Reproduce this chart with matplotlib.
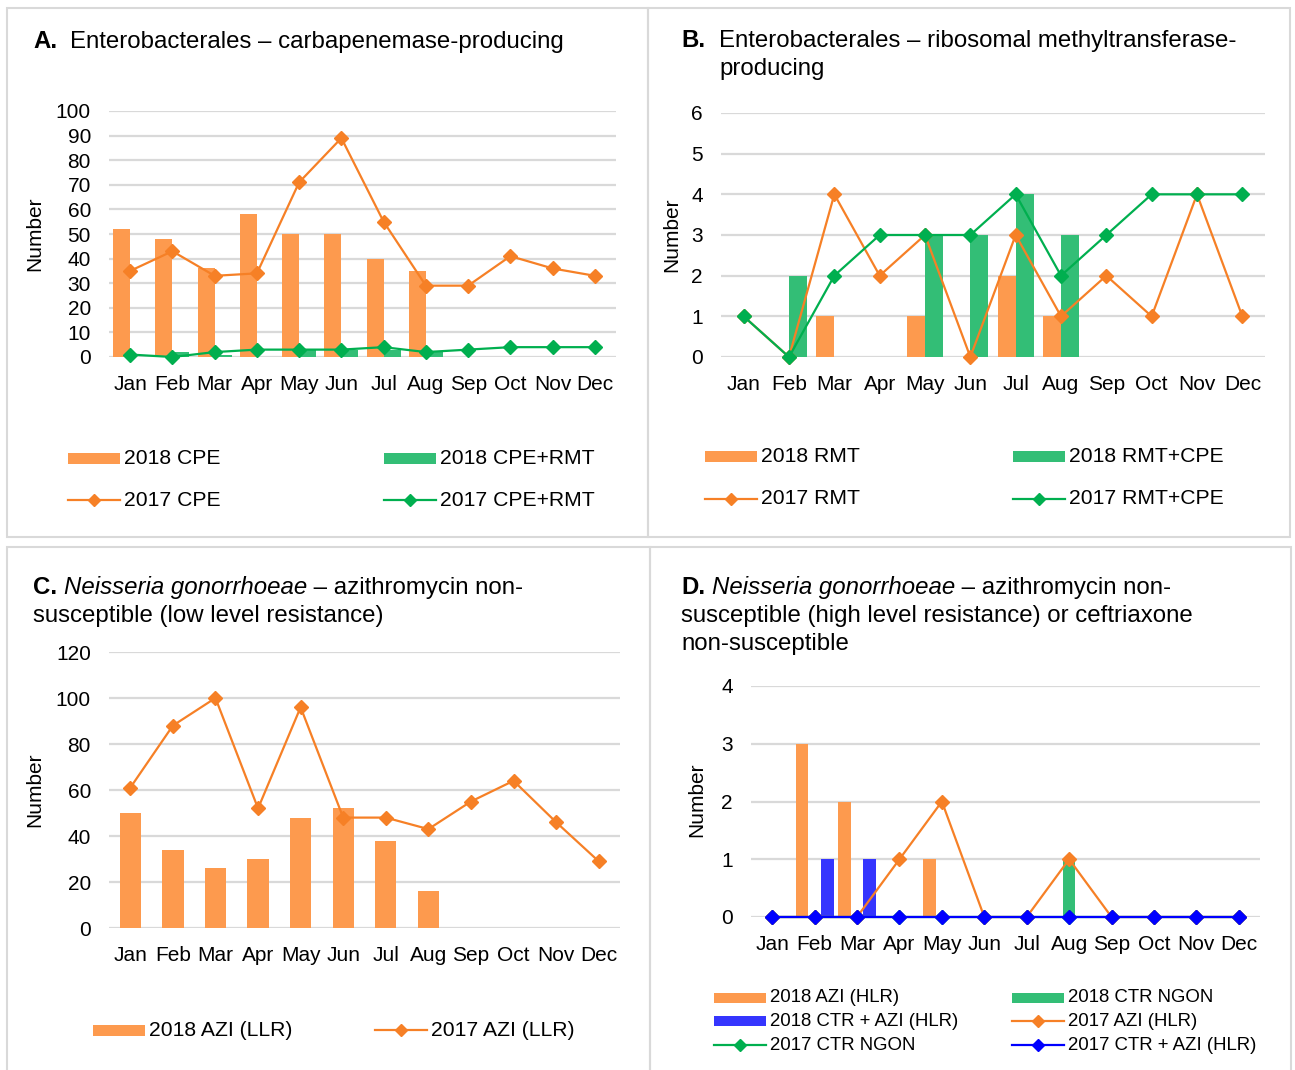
import matplotlib
matplotlib.use("Agg")
import matplotlib.pyplot as plt
from matplotlib.patches import Rectangle
from matplotlib.lines import Line2D
import numpy as np

plt.rcParams['font.family'] = ['Liberation Sans', 'DejaVu Sans']

W, H = 1295, 1070

months = ["Jan", "Feb", "Mar", "Apr", "May", "Jun",
          "Jul", "Aug", "Sep", "Oct", "Nov", "Dec"]

# A. carbapenemase-producing Enterobacterales
cpe_2018 = [52, 48, 36, 58, 50, 50, 40, 35]
cpe_rmt_2018 = [0, 2, 1, 0, 3, 3, 3, 2]
cpe_2017 = [35, 43, 33, 34, 71, 89, 55, 29, 29, 41, 36, 33]
cpe_rmt_2017 = [1, 0, 2, 3, 3, 3, 4, 2, 3, 4, 4, 4]

# B. ribosomal methyltransferase-producing Enterobacterales
rmt_2018 = [0, 0, 1, 0, 1, 0, 2, 1]
rmt_cpe_2018 = [0, 2, 0, 0, 3, 3, 4, 3]
rmt_2017 = [1, 0, 4, 2, 3, 0, 3, 1, 2, 1, 4, 1]
rmt_cpe_2017 = [1, 0, 2, 3, 3, 3, 4, 2, 3, 4, 4, 4]

# C. N. gonorrhoeae, azithromycin low level resistance
azi_llr_2018 = [50, 34, 26, 30, 48, 52, 38, 16]
azi_llr_2017 = [61, 88, 100, 52, 96, 48, 48, 43, 55, 64, 46, 29]

# D. N. gonorrhoeae, azithromycin high level resistance / ceftriaxone
azi_hlr_2018 = [0, 3, 2, 0, 1, 0, 0, 0]
ctr_ngon_2018 = [0, 0, 0, 0, 0, 0, 0, 1]
ctr_azi_2018 = [0, 1, 1, 0, 0, 0, 0, 0]
azi_hlr_2017 = [0, 0, 0, 1, 2, 0, 0, 1, 0, 0, 0, 0]
ctr_ngon_2017 = [0, 0, 0, 0, 0, 0, 0, 0, 0, 0, 0, 0]
ctr_azi_2017 = [0, 0, 0, 0, 0, 0, 0, 0, 0, 0, 0, 0]

ORANGE_BAR = '#FD9A4E'
ORANGE_LINE = '#F68026'
GREEN_BAR = '#33BE76'
GREEN_LINE = '#00AF4F'
BLUE_BAR = '#3535FE'
BLUE_LINE = '#0000FF'
GRID = '#D9D9D9'
BORDER = '#D9D9D9'

TICK_FS = 15
TITLE_FS = 17.3
LEG_FS = 15.2
LEG_FS_D = 13.4

fig = plt.figure(figsize=(W / 100, H / 100), dpi=100)


def fx(x):
    return x / W


def fy(y):
    return 1 - y / H


def make_axes(x0, y0, x1, y1, ymax, ystep):
    ax = fig.add_axes([fx(x0), fy(y1), (x1 - x0) / W, (y1 - y0) / H])
    for s in ax.spines.values():
        s.set_visible(False)
    ax.set_xlim(-0.5, 11.5)
    ax.set_ylim(0, ymax)
    ax.set_xticks(range(12), months)
    ax.set_yticks(np.arange(0, ymax + ystep / 2, ystep))
    ax.tick_params(axis='x', length=0, labelsize=TICK_FS, pad=13)
    ax.tick_params(axis='y', length=0, labelsize=TICK_FS, pad=13)
    ax.yaxis.grid(True, color=GRID, lw=1.6)
    ax.set_axisbelow(True)
    ax.patch.set_alpha(0)
    return ax


def line(ax, vals, color, z=3):
    ax.plot(range(len(vals)), vals, color=color, lw=1.6, marker='D', ms=6.8,
            zorder=z, clip_on=False)


def border(x0, y0, x1, y1):
    fig.add_artist(Rectangle((fx(x0), fy(y1)), (x1 - x0) / W, (y1 - y0) / H,
                             transform=fig.transFigure, fill=False,
                             edgecolor=BORDER, lw=1.5))


def ylabel(x, y):
    fig.text(fx(x), fy(y), "Number", rotation=90, ha='center', va='center',
             fontsize=TICK_FS)


def runs(x, y, parts, fs=TITLE_FS):
    r = fig.canvas.get_renderer()
    for text, weight, style in parts:
        t = fig.text(fx(x), fy(y), text, fontsize=fs, weight=weight,
                     style=style, va='baseline', ha='left')
        x += t.get_window_extent(r).width


def leg_patch(x, y, color, label, fs=LEG_FS, h=11):
    fig.add_artist(Rectangle((fx(x), fy(y + h / 2)), 52 / W, h / H,
                             transform=fig.transFigure, color=color, lw=0))
    fig.text(fx(x + 56), fy(y), label, fontsize=fs, va='center', ha='left')


def leg_line(x, y, color, label, fs=LEG_FS):
    fig.add_artist(Line2D([fx(x), fx(x + 52)], [fy(y), fy(y)],
                          transform=fig.transFigure, color=color, lw=1.6))
    fig.add_artist(Line2D([fx(x + 26)], [fy(y)], transform=fig.transFigure,
                          color=color, marker='D', ms=6))
    fig.text(fx(x + 56), fy(y), label, fontsize=fs, va='center', ha='left')


# panel frames
border(7, 8, 648, 537)
border(648, 8, 1290, 537)
border(7, 547, 650, 1075)
border(650, 547, 1291, 1075)

x8 = np.arange(8)

# ---- A ----
axA = make_axes(109, 111, 616, 357, 100, 10)
axA.bar(x8 - 0.2, cpe_2018, width=0.4, color=ORANGE_BAR)
axA.bar(x8 + 0.2, cpe_rmt_2018, width=0.4, color=GREEN_BAR)
line(axA, cpe_2017, ORANGE_LINE)
line(axA, cpe_rmt_2017, GREEN_LINE, z=4)
ylabel(35, 234)
runs(33, 48, [("A.", 'bold', 'normal')])
runs(70, 48, [("Enterobacterales \u2013 carbapenemase-producing", 'normal', 'normal')])
leg_patch(68, 458, ORANGE_BAR, "2018 CPE")
leg_line(68, 500, ORANGE_LINE, "2017 CPE")
leg_patch(384, 458, GREEN_BAR, "2018 CPE+RMT")
leg_line(384, 500, GREEN_LINE, "2017 CPE+RMT")

# ---- B ----
axB = make_axes(721, 113, 1265, 357, 6, 1)
axB.bar(x8 - 0.2, rmt_2018, width=0.4, color=ORANGE_BAR)
axB.bar(x8 + 0.2, rmt_cpe_2018, width=0.4, color=GREEN_BAR)
line(axB, rmt_2017, ORANGE_LINE)
line(axB, rmt_cpe_2017, GREEN_LINE, z=4)
ylabel(672, 235)
runs(681, 47, [("B.", 'bold', 'normal')])
runs(719, 47, [("Enterobacterales \u2013 ribosomal methyltransferase-", 'normal', 'normal')])
runs(719, 75, [("producing", 'normal', 'normal')])
leg_patch(705, 456, ORANGE_BAR, "2018 RMT")
leg_line(705, 499, ORANGE_LINE, "2017 RMT")
leg_patch(1013, 456, GREEN_BAR, "2018 RMT+CPE")
leg_line(1013, 499, GREEN_LINE, "2017 RMT+CPE")

# ---- C ----
axC = make_axes(109, 652, 620, 928, 120, 20)
axC.bar(x8, azi_llr_2018, width=0.5, color=ORANGE_BAR)
line(axC, azi_llr_2017, ORANGE_LINE)
ylabel(35, 790)
runs(33, 594, [("C.", 'bold', 'normal'), (" ", 'normal', 'normal'),
               ("Neisseria gonorrhoeae", 'normal', 'italic'),
               (" \u2013 azithromycin non-", 'normal', 'normal')])
runs(33, 622, [("susceptible (low level resistance)", 'normal', 'normal')])
leg_patch(93, 1030, ORANGE_BAR, "2018 AZI (LLR)")
leg_line(375, 1030, ORANGE_LINE, "2017 AZI (LLR)")

# ---- D ----
axD = make_axes(751, 686, 1260, 917, 4, 1)
axD.bar(x8 - 0.3, azi_hlr_2018, width=0.3, color=ORANGE_BAR)
axD.bar(x8, ctr_ngon_2018, width=0.3, color=GREEN_BAR)
axD.bar(x8 + 0.3, ctr_azi_2018, width=0.3, color=BLUE_BAR)
line(axD, ctr_ngon_2017, GREEN_LINE, z=3)
line(axD, azi_hlr_2017, ORANGE_LINE, z=4)
line(axD, ctr_azi_2017, BLUE_LINE, z=5)
ylabel(697, 800)
runs(681, 594, [("D.", 'bold', 'normal'), (" ", 'normal', 'normal'),
                ("Neisseria gonorrhoeae", 'normal', 'italic'),
                (" \u2013 azithromycin non-", 'normal', 'normal')])
runs(681, 622, [("susceptible (high level resistance) or ceftriaxone", 'normal', 'normal')])
runs(681, 650, [("non-susceptible", 'normal', 'normal')])
leg_patch(714, 998, ORANGE_BAR, "2018 AZI (HLR)", LEG_FS_D, 10)
leg_patch(714, 1021, BLUE_BAR, "2018 CTR + AZI (HLR)", LEG_FS_D, 10)
leg_line(714, 1045, GREEN_LINE, "2017 CTR NGON", LEG_FS_D)
leg_patch(1012, 998, GREEN_BAR, "2018 CTR NGON", LEG_FS_D, 10)
leg_line(1012, 1021, ORANGE_LINE, "2017 AZI (HLR)", LEG_FS_D)
leg_line(1012, 1045, BLUE_LINE, "2017 CTR + AZI (HLR)", LEG_FS_D)

fig.savefig("out.png", dpi=100)
